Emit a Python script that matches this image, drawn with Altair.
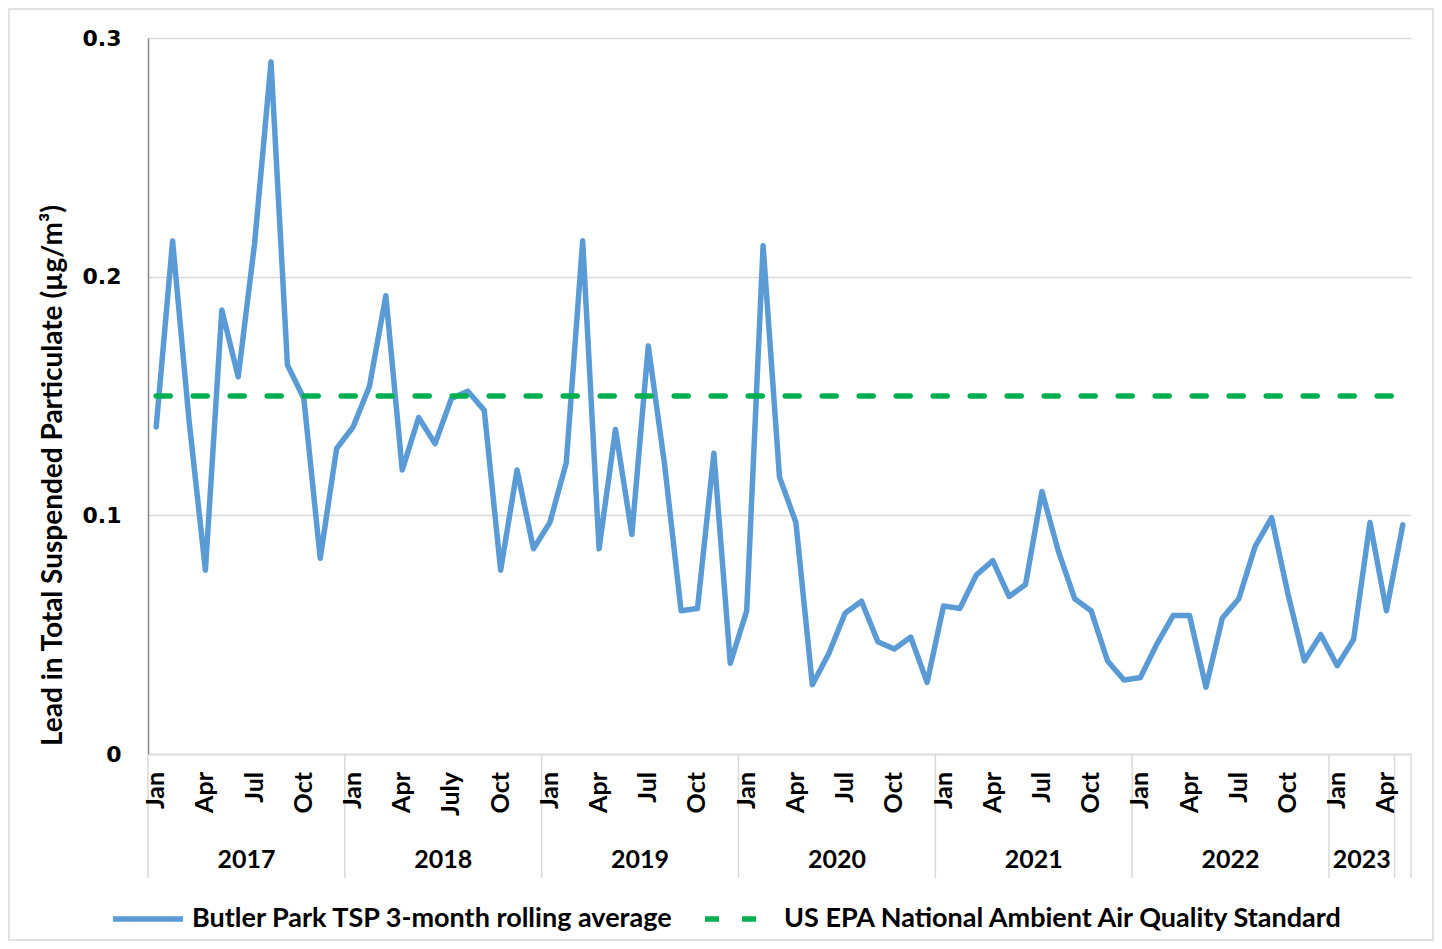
import altair as alt
import pandas as pd

# ---------------- data ----------------
years = ["2017", "2018", "2019", "2020", "2021", "2022", "2023"]
months_per_year = [12, 12, 12, 12, 12, 12, 5]
month_names = ["Jan", "Feb", "Mar", "Apr", "May", "Jun",
               "Jul", "Aug", "Sep", "Oct", "Nov", "Dec"]

# Butler Park TSP lead, 3-month rolling average (µg/m³), Jan 2017 - May 2023
tsp_values = [
    # 2017
    0.137, 0.215, 0.140, 0.077, 0.186, 0.158, 0.214, 0.290, 0.163, 0.149, 0.082, 0.128,
    # 2018
    0.137, 0.154, 0.192, 0.119, 0.141, 0.130, 0.149, 0.152, 0.144, 0.077, 0.119, 0.086,
    # 2019
    0.097, 0.122, 0.215, 0.086, 0.136, 0.092, 0.171, 0.121, 0.060, 0.061, 0.126, 0.038,
    # 2020
    0.060, 0.213, 0.116, 0.097, 0.029, 0.042, 0.059, 0.064, 0.047, 0.044, 0.049, 0.030,
    # 2021
    0.062, 0.061, 0.075, 0.081, 0.066, 0.071, 0.110, 0.085, 0.065, 0.060, 0.039, 0.031,
    # 2022
    0.032, 0.046, 0.058, 0.058, 0.028, 0.057, 0.065, 0.087, 0.099, 0.067, 0.039, 0.050,
    # 2023
    0.037, 0.048, 0.097, 0.060, 0.096,
]
naaqs_standard = 0.15

tick_months = ["Jan", "Apr", "Jul", "Oct"]
tick_label_override = {("2018", "Jul"): "July"}
# year groups on the category axis (2023 label covers Jan-Apr, May stands alone)
year_group_sizes = [12, 12, 12, 12, 12, 12, 4, 1]
year_group_labels = ["2017", "2018", "2019", "2020", "2021", "2022", "2023", ""]

series_tsp = "Butler Park TSP 3-month rolling average"
series_std = "US EPA National Ambient Air Quality Standard"

# ---------------- tables ----------------
idx = 0
month_rows = []
for y, n in zip(years, months_per_year):
    for m in range(n):
        month_rows.append({"pos": idx + 0.5, "year": y, "month": month_names[m]})
        idx += 1
n_months = idx

line_rows = []
for r, v in zip(month_rows, tsp_values):
    line_rows.append({"pos": r["pos"], "value": v, "series": series_tsp})
for r in month_rows:
    line_rows.append({"pos": r["pos"], "value": naaqs_standard, "series": series_std})
lines_df = pd.DataFrame(line_rows)

tick_rows = []
for r in month_rows:
    if r["month"] in tick_months:
        if r["year"] == "2023" and r["month"] not in ("Jan", "Apr"):
            continue
        lab = tick_label_override.get((r["year"], r["month"]), r["month"])
        tick_rows.append({"pos": r["pos"], "label": lab})
ticks_df = pd.DataFrame(tick_rows)

bounds = [0]
for s in year_group_sizes:
    bounds.append(bounds[-1] + s)
sep_df = pd.DataFrame({"pos": bounds})
year_df = pd.DataFrame({
    "pos": [(bounds[i] + bounds[i + 1]) / 2 for i in range(len(year_group_sizes))],
    "label": year_group_labels,
})
year_df = year_df[year_df["label"] != ""]

# ---------------- chart ----------------
W, H = 1263, 716
FONT = "Lato"
LW = 5.5

xscale = alt.Scale(domain=[0, n_months], nice=False, zero=False)

lines = alt.Chart(lines_df).mark_line(strokeWidth=LW, strokeCap="round", strokeJoin="round").encode(
    x=alt.X("pos:Q", scale=xscale,
            axis=alt.Axis(labels=False, ticks=False, grid=False, title=None,
                          domainColor="#d9d9d9", domainWidth=1.5)),
    y=alt.Y("value:Q", scale=alt.Scale(domain=[0, 0.3], nice=False),
            axis=alt.Axis(values=[0, 0.1, 0.2, 0.3], format=".1~f",
                          labelFont="DejaVu Sans", labelFontWeight="bold",
                          labelFontSize=22, labelColor="black", labelPadding=27,
                          ticks=False, domainColor="#868686", domainWidth=1.5,
                          gridColor="#d9d9d9", gridWidth=1.5,
                          title="Lead in Total Suspended Particulate (µg/m³)",
                          titleFont=FONT, titleFontSize=28, titleFontWeight="bold",
                          titleColor="black", titleAngle=270, titleAlign="center",
                          titleBaseline="middle", titleX=-95, titleY=437)),
    color=alt.Color("series:N",
                    scale=alt.Scale(domain=[series_tsp, series_std],
                                    range=["#5B9BD5", "#00B050"]),
                    legend=alt.Legend(title=None)),
    strokeDash=alt.StrokeDash("series:N",
                              scale=alt.Scale(domain=[series_tsp, series_std],
                                              range=[[1, 0], [14, 23]]),
                              legend=alt.Legend(title=None)),
    strokeWidth=alt.value(LW),
    order=alt.Order("series:N"),
)

seps = alt.Chart(sep_df).mark_rule(color="#d9d9d9", strokeWidth=1.5).encode(
    x=alt.X("pos:Q", scale=xscale),
    y=alt.value(H), y2=alt.value(H + 124),
)

month_text = alt.Chart(ticks_df).mark_text(
    angle=270, align="right", baseline="middle", font=FONT, fontSize=25,
    fontWeight="bold", color="black"
).encode(x=alt.X("pos:Q", scale=xscale), y=alt.value(H + 18), text="label:N")

year_text = alt.Chart(year_df).mark_text(
    align="center", baseline="middle", font=FONT, fontSize=25,
    fontWeight="bold", color="black"
).encode(x=alt.X("pos:Q", scale=xscale), y=alt.value(H + 106), text="label:N")

frame = alt.Chart(pd.DataFrame({"k": [0]})).mark_rect(
    filled=False, stroke="#d9d9d9", strokeWidth=1.5
).encode(x=alt.value(-139), x2=alt.value(W + 22), y=alt.value(-29), y2=alt.value(H + 186))

chart = alt.layer(frame, seps, month_text, year_text, lines).properties(
    width=W, height=H,
    autosize=alt.AutoSizeParams(type="none"),
    padding={"left": 140, "top": 30, "right": 23, "bottom": 187},
).configure_view(stroke=None).configure_legend(
    orient="none", legendX=-38, legendY=843, direction="horizontal",
    symbolType="stroke", symbolSize=4900, symbolStrokeWidth=LW,
    labelFont=FONT, labelFontSize=27, labelFontWeight="bold", labelColor="black",
    labelLimit=1000, columnPadding=20, labelOffset=6,
)

chart.save("out.html", embed_options={"renderer": "svg", "actions": False})
